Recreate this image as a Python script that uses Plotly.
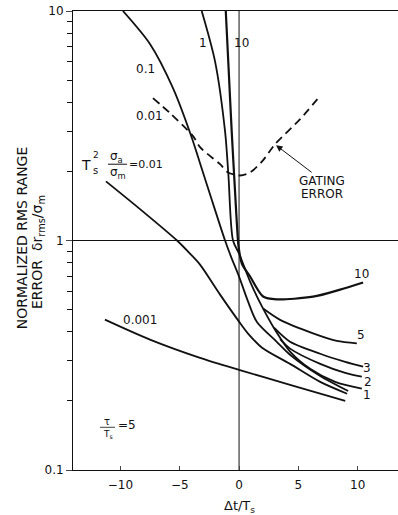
import numpy as np
import plotly.graph_objects as go

# ---------------- data ----------------
x_0001 = [-11.31, -7.51, -3.29, 0.0, 4.30, 8.95]
y_0001 = [0.452, 0.37, 0.308, 0.273, 0.235, 0.200]

x_001 = [-11.22, -8.35, -5.23, -4.14, -3.29, -1.60, 0.0, 0.76, 1.94, 4.30, 6.84, 9.11]
y_001 = [1.81, 1.37, 1.0, 0.877, 0.785, 0.581, 0.443, 0.393, 0.341, 0.29, 0.242, 0.215]

x_01 = [-9.79, -7.51, -5.57, -3.97, -3.29, -2.45, -1.18, -0.68, 0.0, 0.76, 1.49, 3.18, 4.30, 6.84, 9.20]
y_01 = [10.0, 7.18, 4.61, 2.79, 2.17, 1.59, 1.0, 0.851, 0.696, 0.542, 0.443, 0.362, 0.318, 0.257, 0.221]

x_1 = [-3.15, -2.03, -1.18, -0.90, -0.51, 0.0, 0.93, 1.94, 3.12, 4.30, 5.99, 8.10, 10.35]
y_1 = [10.0, 6.05, 2.99, 1.94, 1.0, 0.877, 0.662, 0.515, 0.401, 0.328, 0.276, 0.242, 0.226]

x_10 = [-1.12, -0.87, -0.62, -0.34, -0.17, -0.04, 0.25, 0.93, 2.03, 3.18, 6.24, 8.52, 10.46]
y_10 = [10.0, 5.47, 2.99, 1.64, 1.15, 0.94, 0.79, 0.697, 0.570, 0.554, 0.569, 0.611, 0.656]

x_5 = [2.03, 3.46, 6.24, 8.24, 9.93]
y_5 = [0.505, 0.451, 0.394, 0.365, 0.356]

x_3 = [2.95, 4.30, 6.84, 8.95, 10.46]
y_3 = [0.417, 0.362, 0.321, 0.296, 0.282]

x_2 = [3.46, 4.30, 6.84, 8.95, 10.35]
y_2 = [0.372, 0.338, 0.290, 0.265, 0.255]

x_gate = [-7.26, -5.82, -3.88, -3.29, -1.60, -0.93, 0.08, 0.93, 1.94, 3.04, 5.15, 6.67]
y_gate = [4.17, 3.59, 2.85, 2.55, 2.15, 1.98, 1.92, 1.98, 2.21, 2.63, 3.38, 4.17]

x_range = [-14.0, 13.4]
y_range = [0.1, 10.0]
x_ticks = [-10, -5, 0, 5, 10]
y_ticks = [0.1, 1, 10]
y_tick_text = ["0.1", "1", "10"]
y_minor = [0.2, 0.3, 0.4, 0.5, 0.6, 0.7, 0.8, 0.9, 2, 3, 4, 5, 6, 7, 8, 9]

FONT = "DejaVu Sans"
INK = "#111111"

fig = go.Figure()

def curve(x, y, width=1.8, dash=None):
    fig.add_trace(go.Scatter(
        x=x, y=y, mode="lines",
        line=dict(color=INK, width=width, dash=dash, shape="spline", smoothing=0.8),
        hoverinfo="skip", showlegend=False))

def straight(x, y, width=1.0):
    fig.add_trace(go.Scatter(
        x=x, y=y, mode="lines", line=dict(color=INK, width=width),
        hoverinfo="skip", showlegend=False))

# reference lines: y = 1 and x = 0
straight(x_range, [1, 1], 1.0)
straight([0, 0], y_range, 1.0)

curve(x_0001, y_0001)
curve(x_001, y_001)
curve(x_01, y_01)
curve(x_1, y_1)
curve(x_10, y_10, width=2.2)
curve(x_5, y_5)
curve(x_3, y_3)
curve(x_2, y_2)
curve(x_gate, y_gate, width=1.8, dash="8px,5px")

# fraction bars for the labels
straight([-11.05, -9.45], [2.15, 2.15], 1.0)
straight([-11.73, -10.46], [0.1535, 0.1535], 0.8)

annots = []
def label(text, x, y, size=12, xanchor="center"):
    annots.append(dict(text=text, x=x, y=np.log10(y), xref="x", yref="y",
                       showarrow=False, xanchor=xanchor, yanchor="middle",
                       borderpad=0,
                       font=dict(family=FONT, size=size, color=INK)))

label("0.1", -7.93, 5.58)
label("0.01", -7.51, 3.48)
label("T", -12.36, 2.13, size=14, xanchor="right")
label("2", -12.40, 2.36, size=9, xanchor="left")
label("s", -12.40, 2.01, size=10, xanchor="left")
label("σ<sub>a</sub>", -10.30, 2.31, size=12)
label("σ<sub>m</sub>", -10.21, 1.97, size=12)
label("=0.01", -9.40, 2.15, size=11, xanchor="left")
label("0.001", -8.35, 0.452)
label("τ", -11.15, 0.163, size=10)
label("T<sub>s</sub>", -11.05, 0.1425, size=9)
label("=5", -9.45, 0.157)
label("10", 10.30, 0.718)
label("5", 10.30, 0.389)
label("3", 10.80, 0.277)
label("2", 10.89, 0.243)
label("1", 10.80, 0.212)
label("1", -3.04, 7.24)
label("10", 0.21, 7.24)
label("GATING", 7.0, 1.81)
label("ERROR", 7.0, 1.59)

annots.append(dict(text="", x=3.12, y=np.log10(2.60), ax=6.24, ay=np.log10(1.96),
                   xref="x", yref="y", axref="x", ayref="y", showarrow=True,
                   arrowhead=2, arrowsize=1.3, arrowwidth=1, arrowcolor=INK))

# axis titles
annots.append(dict(text="Δt/T<sub>s</sub>", x=0, xref="x", y=0, yref="paper",
                   yshift=-36, showarrow=False, yanchor="middle",
                   font=dict(family=FONT, size=13, color=INK)))
annots.append(dict(text="NORMALIZED RMS RANGE", x=0, xref="paper", xshift=-51,
                   y=0.505, yref="paper", textangle=-90, showarrow=False,
                   xanchor="center", yanchor="middle",
                   font=dict(family=FONT, size=14, color=INK)))
annots.append(dict(text="ERROR  δr<sub>rms</sub>/σ<sub>m</sub>", x=0, xref="paper", xshift=-35,
                   y=0.475, yref="paper", textangle=-90, showarrow=False,
                   xanchor="center", yanchor="middle",
                   font=dict(family=FONT, size=14, color=INK)))

fig.update_layout(
    width=398, height=515,
    margin=dict(l=73, r=0, t=11, b=45),
    paper_bgcolor="white", plot_bgcolor="white",
    font=dict(family=FONT, size=12, color=INK),
    annotations=annots,
    hovermode=False,
    xaxis=dict(range=x_range, tickvals=x_ticks, ticks="inside", ticklen=4,
               showline=True, linecolor=INK, linewidth=1, mirror=True,
               showgrid=False, zeroline=False, ticklabelstandoff=4,
               tickfont=dict(family=FONT, size=12, color=INK)),
    yaxis=dict(type="log", range=[np.log10(y_range[0]), np.log10(y_range[1])],
               tickvals=y_ticks, ticktext=y_tick_text, ticks="outside", ticklen=6,
               showline=True, linecolor=INK, linewidth=1, showgrid=False,
               zeroline=False, ticklabeloverflow="allow",
               tickfont=dict(family=FONT, size=12, color=INK),
               minor=dict(tickvals=y_minor, ticks="outside", ticklen=5,
                          tickcolor=INK, showgrid=False)),
)

# remove the default 8px page margin so the figure sits at the window's corner
fig.write_html("out.html", config={"displayModeBar": False},
               post_script="document.body.style.margin='0px';document.body.style.overflow='hidden';")
